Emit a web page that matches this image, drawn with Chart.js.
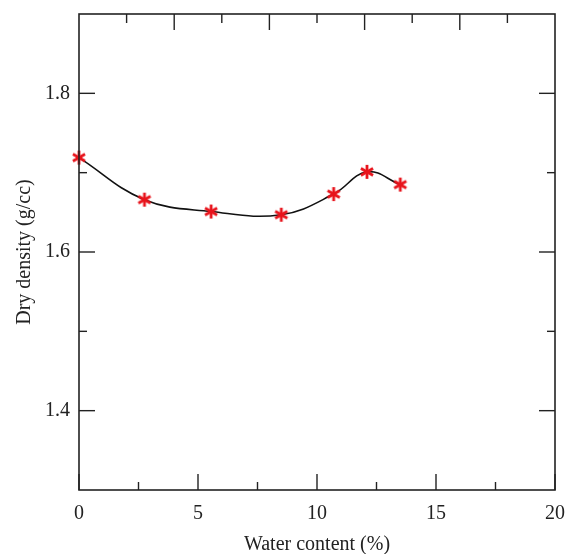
<!DOCTYPE html>
<html>
<head>
<meta charset="utf-8">
<script src="https://cdn.jsdelivr.net/npm/chart.js@4"></script>
<style>
  html, body { margin: 0; padding: 0; background: #fff; }
  #wrap { width: 566px; height: 554px; }
</style>
</head>
<body>
<div id="wrap"><canvas id="densityChart" width="566" height="554"></canvas></div>
<script>
// Données
const waterContent = [0.0, 2.75, 5.55, 8.5, 10.7, 12.1, 13.5];
const dryDensity = [1.719, 1.666, 1.651, 1.647, 1.673, 1.701, 1.685];

// Graduations
const xMajorTicks = [0, 5, 10, 15, 20];
const xTickLabels = ['0', '5', '10', '15', '20'];
const xMinorTicks = [2.5, 7.5, 12.5, 17.5];
const topMajorTicks = [4, 8, 12, 16];
const topMinorTicks = [2, 6, 10, 14, 18];
const yMajorTicks = [1.4, 1.6, 1.8];
const yTickLabels = ['1.4', '1.6', '1.8'];
const yMinorTicks = [1.5, 1.7];

const ink = '#222';
const serif = "'Liberation Serif', 'DejaVu Serif', serif";

// Marqueur astérisque rouge
function makeAsterisk(size) {
    const c = document.createElement('canvas');
    c.width = size;
    c.height = size;
    const g = c.getContext('2d');
    const r = size / 2 - 1;
    g.strokeStyle = '#e8141c';
    g.lineWidth = 2.8;
    g.lineCap = 'butt';
    [90, 30, 150].forEach(a => {
        const t = a * Math.PI / 180;
        g.beginPath();
        g.moveTo(size / 2 - r * Math.cos(t), size / 2 - r * Math.sin(t));
        g.lineTo(size / 2 + r * Math.cos(t), size / 2 + r * Math.sin(t));
        g.stroke();
    });
    return c;
}

// Cadre et graduations intérieures
const framePlugin = {
    id: 'frame',
    afterDraw(chart) {
        const ctx = chart.ctx;
        const a = chart.chartArea;
        const xs = chart.scales.x;
        const ys = chart.scales.y;
        ctx.save();
        ctx.strokeStyle = ink;
        ctx.lineWidth = 1.6;
        ctx.strokeRect(a.left, a.top, a.right - a.left, a.bottom - a.top);
        ctx.lineWidth = 1.4;
        const tick = (x1, y1, x2, y2) => {
            ctx.beginPath();
            ctx.moveTo(x1, y1);
            ctx.lineTo(x2, y2);
            ctx.stroke();
        };
        xMajorTicks.forEach(v => { const p = xs.getPixelForValue(v); tick(p, a.bottom, p, a.bottom - 16); });
        xMinorTicks.forEach(v => { const p = xs.getPixelForValue(v); tick(p, a.bottom, p, a.bottom - 8); });
        topMajorTicks.forEach(v => { const p = xs.getPixelForValue(v); tick(p, a.top, p, a.top + 16); });
        topMinorTicks.forEach(v => { const p = xs.getPixelForValue(v); tick(p, a.top, p, a.top + 9); });
        yMajorTicks.forEach(v => {
            const p = ys.getPixelForValue(v);
            tick(a.left, p, a.left + 16, p);
            tick(a.right, p, a.right - 16, p);
        });
        yMinorTicks.forEach(v => {
            const p = ys.getPixelForValue(v);
            tick(a.left, p, a.left + 8, p);
            tick(a.right, p, a.right - 8, p);
        });
        ctx.restore();
    }
};

const ctx = document.getElementById('densityChart').getContext('2d');
const densityChart = new Chart(ctx, {
    type: 'line',
    data: {
        datasets: [{
            data: waterContent.map((w, i) => ({ x: w, y: dryDensity[i] })),
            borderColor: '#111',
            borderWidth: 1.6,
            tension: 0.4,
            fill: false,
            pointStyle: makeAsterisk(16),
            pointRadius: 8,
            clip: false
        }]
    },
    options: {
        responsive: false,
        animation: false,
        layout: { padding: { top: 14, right: 11, left: 0, bottom: 0 } },
        plugins: {
            legend: { display: false },
            tooltip: { enabled: false }
        },
        scales: {
            x: {
                type: 'linear',
                min: 0,
                max: 20,
                afterBuildTicks: s => { s.ticks = xMajorTicks.map(v => ({ value: v })); },
                afterFit: s => { s.height = 64; s.paddingLeft = 0; s.paddingRight = 0; },
                grid: { display: false, drawTicks: false },
                border: { display: false },
                ticks: {
                    padding: 12,
                    color: ink,
                    font: { family: serif, size: 20 },
                    maxRotation: 0,
                    callback: v => xTickLabels[xMajorTicks.indexOf(v)]
                },
                title: {
                    display: true,
                    text: 'Water content (%)',
                    color: ink,
                    font: { family: serif, size: 20 },
                    padding: { top: 0, bottom: -3 }
                }
            },
            y: {
                type: 'linear',
                min: 1.3,
                max: 1.9,
                afterBuildTicks: s => { s.ticks = yMajorTicks.map(v => ({ value: v })); },
                afterFit: s => { s.width = 79; s.paddingTop = 0; s.paddingBottom = 0; },
                grid: { display: false, drawTicks: false },
                border: { display: false },
                ticks: {
                    padding: 9,
                    color: ink,
                    font: { family: serif, size: 20 },
                    callback: v => yTickLabels[yMajorTicks.findIndex(t => Math.abs(t - v) < 1e-6)]
                },
                title: {
                    display: true,
                    text: 'Dry density (g/cc)',
                    color: ink,
                    font: { family: serif, size: 20 },
                    padding: { top: 13, bottom: 0 }
                }
            }
        }
    },
    plugins: [framePlugin]
});
</script>
</body>
</html>
